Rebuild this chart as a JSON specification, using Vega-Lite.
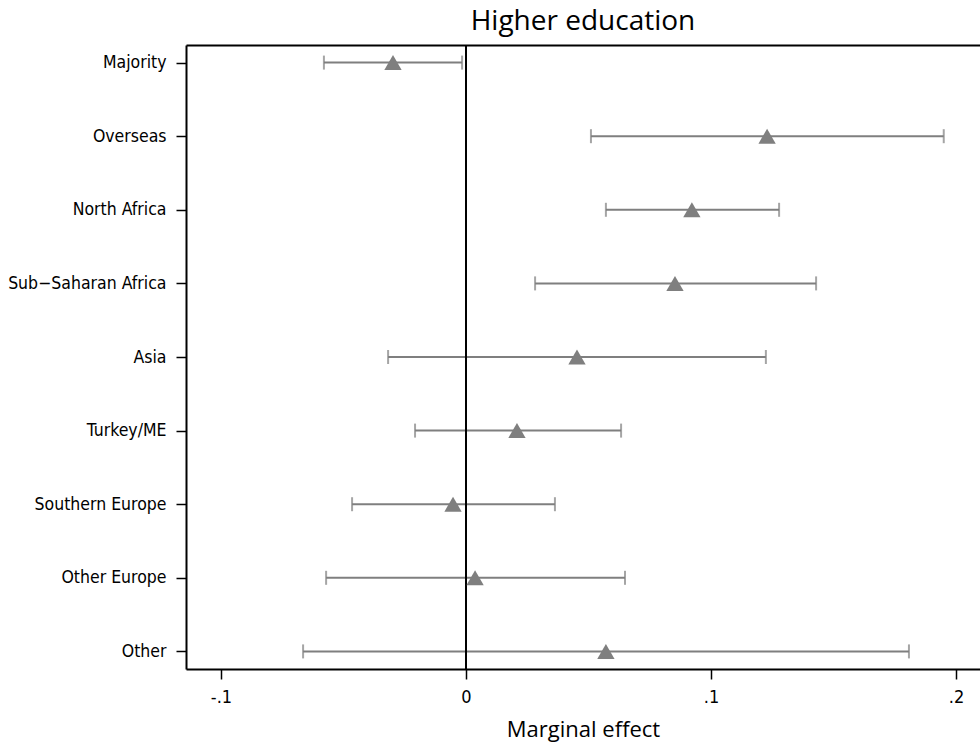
{
  "$schema": "https://vega.github.io/schema/vega-lite/v6.json",
  "autosize": {"type": "none"},
  "width": 794,
  "height": 624,
  "padding": {"left": 186, "top": 45, "right": 0, "bottom": 76},
  "background": "white",
  "title": {"text": "Higher education", "font": "Open Sans", "fontSize": 28, "fontWeight": "normal", "color": "black", "anchor": "middle", "offset": 8},
  "config": {
    "view": {"stroke": null},
    "axis": {"grid": false, "domainColor": "black", "domainWidth": 2, "tickColor": "black", "tickWidth": 1.5, "tickSize": 10, "labelColor": "black", "titleColor": "black"}
  },
  "data": {"values": [
    {"group": "Majority", "est": -0.0298, "lo": -0.058, "hi": -0.0016},
    {"group": "Overseas", "est": 0.1229, "lo": 0.051, "hi": 0.195},
    {"group": "North Africa", "est": 0.0922, "lo": 0.0571, "hi": 0.1278},
    {"group": "Sub−Saharan Africa", "est": 0.0853, "lo": 0.0282, "hi": 0.1429},
    {"group": "Asia", "est": 0.0453, "lo": -0.0318, "hi": 0.1224},
    {"group": "Turkey/ME", "est": 0.0208, "lo": -0.0208, "hi": 0.0633},
    {"group": "Southern Europe", "est": -0.0053, "lo": -0.0465, "hi": 0.0363},
    {"group": "Other Europe", "est": 0.0037, "lo": -0.0571, "hi": 0.0649},
    {"group": "Other", "est": 0.0571, "lo": -0.0665, "hi": 0.1808}
  ]},
  "encoding": {
    "y": {"field": "group", "type": "nominal", "sort": null,
      "scale": {"type": "point", "padding": 0.239},
      "axis": {"title": null, "labelFont": "DejaVu Sans Condensed, Open Sans", "labelFontSize": 17.5, "labelPadding": 10, "domainColor": "black"}}
  },
  "layer": [
    {
      "mark": {"type": "rule", "color": "#7f7f7f", "strokeWidth": 2},
      "encoding": {
        "x": {"field": "lo", "type": "quantitative",
          "scale": {"domain": [-0.11429, 0.20980], "nice": false, "zero": false},
          "axis": {"orient": "bottom", "values": [-0.1, 0, 0.1, 0.2], "title": "Marginal effect",
            "labelExpr": "datum.value == 0 ? '0' : (datum.value < 0 ? '-' : '') + replace(format(abs(datum.value), '.1f'), '0.', '.')",
            "labelFont": "DejaVu Sans Condensed, Open Sans", "labelFontSize": 18, "labelPadding": 9,
            "titleFont": "Open Sans", "titleFontSize": 22, "titleFontWeight": "normal", "titlePadding": 13}},
        "x2": {"field": "hi"}
      }
    },
    {
      "mark": {"type": "tick", "color": "#7f7f7f", "thickness": 2, "size": 14, "orient": "vertical"},
      "encoding": {"x": {"field": "lo", "type": "quantitative", "axis": null}}
    },
    {
      "mark": {"type": "tick", "color": "#7f7f7f", "thickness": 2, "size": 14, "orient": "vertical"},
      "encoding": {"x": {"field": "hi", "type": "quantitative", "axis": null}}
    },
    {
      "mark": {"type": "rule", "color": "black", "strokeWidth": 2},
      "encoding": {"x": {"datum": 0, "type": "quantitative", "axis": null}, "y": null}
    },
    {
      "mark": {"type": "point", "shape": "triangle-up", "filled": true, "color": "#7f7f7f", "opacity": 1, "size": 300},
      "encoding": {"x": {"field": "est", "type": "quantitative",
        "axis": {"orient": "top", "labels": false, "ticks": false, "title": null, "domainColor": "black", "domainWidth": 2}}}
    }
  ]
}
